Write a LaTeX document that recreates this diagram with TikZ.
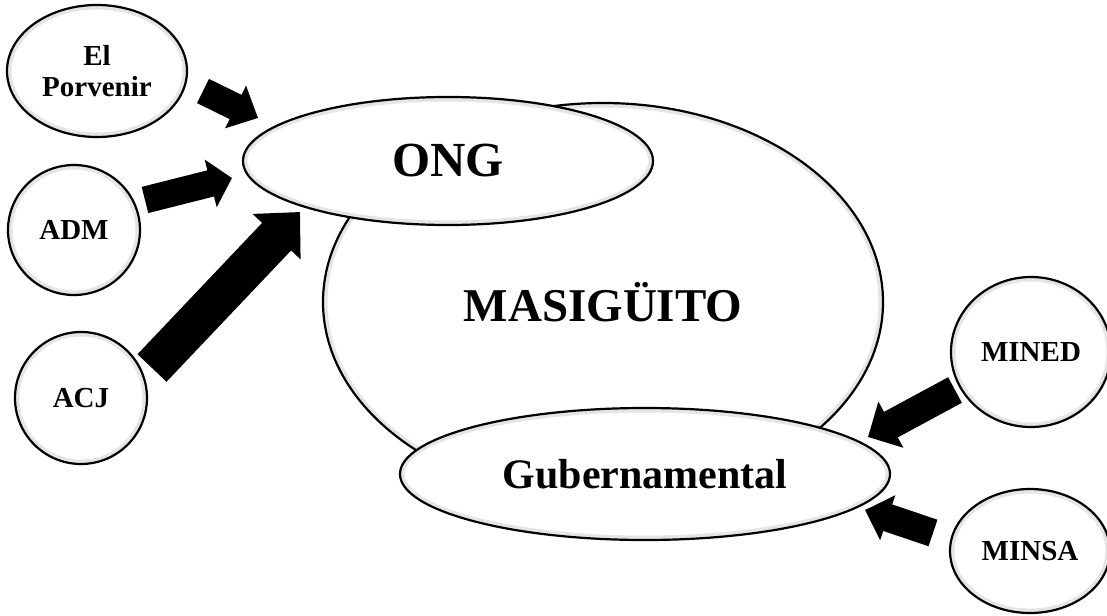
\documentclass[tikz,border=0pt]{standalone}
\usepackage{fontspec}
\setmainfont{Liberation Serif}
\usetikzlibrary{shapes.geometric,arrows.meta}
\tikzset{
  ell/.style={ellipse, draw=black, line width=2.2pt, fill=white, inner sep=0pt, align=center},
  blockarrow/.style n args={3}{draw=black, line width=#1pt, -{Triangle[width=#2pt, length=#3pt]}},
}
\newcommand\elnode[7]{%
  \node[ell, minimum width=#4pt, minimum height=#5pt,
    font=\fontsize{#6pt}{31pt}\selectfont\bfseries,
    path picture={\draw[black!10, line width=7pt] (path picture bounding box.center) ellipse [x radius={#4/2-1}, y radius={#5/2-1}];}]
    (#1) at (#2,#3) {#7};}
\begin{document}
\begin{tikzpicture}[x=1pt,y=-1pt]
\useasboundingbox (0,0) rectangle (1107,615);
% main ellipse
\elnode{mas}{603}{302}{560}{398}{47}{MASIGÜITO}
\elnode{ong}{448}{161}{410}{128}{49}{ONG}
\elnode{gub}{645}{474}{490}{132}{42}{Gubernamental}
\elnode{por}{97}{71}{180}{132}{29}{El\\Porvenir}
\elnode{adm}{74}{230}{132}{130}{29}{ADM}
\elnode{acj}{81}{398}{132}{132}{29}{ACJ}
\elnode{mined}{1031}{352}{160}{150}{29}{MINED}
\elnode{minsa}{1030}{551}{160}{124}{29}{MINSA}
% arrows
\coordinate (a1s) at (203,91);  \coordinate (a1e) at (258,118);
\coordinate (a2s) at (145,200); \coordinate (a2e) at (232,178);
\coordinate (a3s) at (152,368); \coordinate (a3e) at (300,212);
\coordinate (a4s) at (955,390); \coordinate (a4e) at (868,437);
\coordinate (a5s) at (933,533); \coordinate (a5e) at (865,510);
\draw[blockarrow={27}{46}{25}] (a1s) -- (a1e);
\draw[blockarrow={27}{48}{22}] (a2s) -- (a2e);
\draw[blockarrow={40}{64}{34}] (a3s) -- (a3e);
\draw[blockarrow={29}{51}{26}] (a4s) -- (a4e);
\draw[blockarrow={28}{46}{24}] (a5s) -- (a5e);
\end{tikzpicture}
\end{document}
